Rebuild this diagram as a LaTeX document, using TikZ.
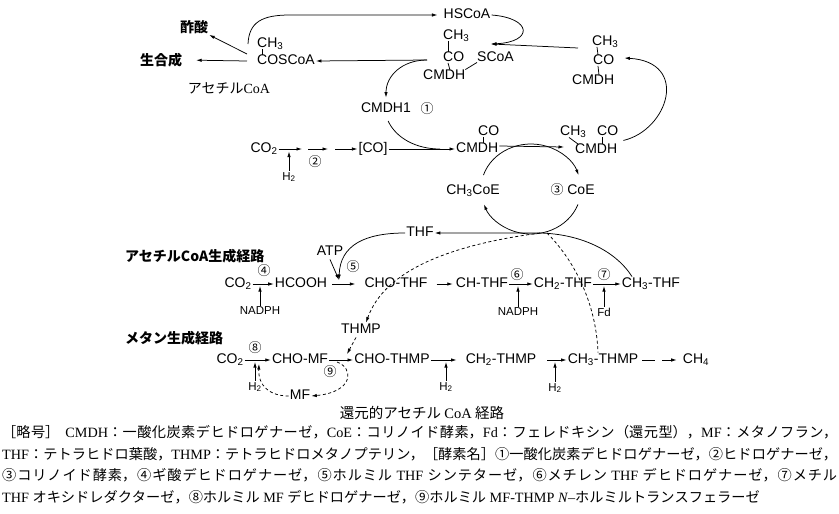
\documentclass[tikz,border=0pt]{standalone}
\usepackage{fontspec}
\setmainfont{Liberation Serif}
\setsansfont{Liberation Sans}
\newfontfamily\jp{Noto Sans CJK JP}
\usetikzlibrary{arrows.meta}
\newcommand{\chsub}[1]{\textsubscript{#1}}
\XeTeXlinebreaklocale "ja"
\XeTeXlinebreakskip=0pt plus 2pt

\begin{document}
\begin{tikzpicture}[x=1pt,y=1pt,
  lbl/.style={font=\sffamily\fontsize{14}{16}\selectfont,inner sep=1pt,text height=10pt,text depth=2.5pt},
  sm/.style={font=\sffamily\fontsize{11.5}{13}\selectfont,inner sep=1pt},
  num/.style={font=\jp\fontsize{13}{15}\selectfont,inner sep=0pt},
  ttl/.style={font=\jp\bfseries\fontsize{14}{16}\selectfont,inner sep=1pt},
  captxt/.style={font=\fontsize{14.2}{21.7}\selectfont,inner sep=0pt,text width=835pt,align=justify},
  arr/.style={-{Latex[length=5.5pt,width=3.4pt]},line width=0.75pt},
  bond/.style={line width=0.75pt},
  dsh/.style={arr,dash pattern=on 3pt off 2.5pt},
]
\useasboundingbox (0,0) rectangle (839,-514);

% acetyl-CoA
\node[ttl] (acetic) at (194,-27) {酢酸};
\node[ttl] (biosyn) at (161,-60) {生合成};
\node[lbl,anchor=west] (acme) at (256,-44) {CH\chsub{3}};
\node[lbl,anchor=west] (acco) at (256,-61) {COSCoA};
\node[font=\jp\fontsize{14}{16}\selectfont] (acname) at (229,-88) {アセチル{\rmfamily CoA}};
\draw[bond] ([xshift=6pt,yshift=2.5pt]acme.south west) -- ([xshift=6pt,yshift=-1.5pt]acco.north west);

% HSCoA and CMDH-acetyl-SCoA complex
\node[lbl] (hscoa) at (467,-15) {HSCoA};
\node[lbl,anchor=west] (cxme) at (442,-36) {CH\chsub{3}};
\node[lbl,anchor=west] (cxco) at (442,-58) {CO};
\node[lbl,anchor=west] (cxdh) at (422,-76) {CMDH};
\node[lbl,anchor=west] (cxsc) at (476,-58) {SCoA};
\draw[bond] ([xshift=6pt,yshift=2.5pt]cxme.south west) -- ([xshift=6pt,yshift=-1.5pt]cxco.north west);
\draw[bond] ([xshift=6pt,yshift=2.5pt]cxco.south west) -- ([xshift=28pt,yshift=-1.5pt]cxdh.north west);
\draw[bond] ([xshift=-1pt,yshift=-1pt]cxdh.north east) -- ([xshift=1pt,yshift=3pt]cxsc.south west);

% acetyl-CMDH (top right)
\node[lbl,anchor=west] (rcme) at (591,-42) {CH\chsub{3}};
\node[lbl,anchor=west] (rcco) at (592,-61) {CO};
\node[lbl,anchor=west] (rcdh) at (571,-81) {CMDH};
\draw[bond] ([xshift=6pt,yshift=2.5pt]rcme.south west) -- ([xshift=6pt,yshift=-1.5pt]rcco.north west);
\draw[bond] ([xshift=6pt,yshift=2.5pt]rcco.south west) -- ([xshift=28pt,yshift=-1.5pt]rcdh.north west);

% CO2 -> [CO] -> CMDH
\node[lbl] (cmdh1) at (386,-109) {CMDH1};
\node[num] (n1) at (427,-109) {①};
\node[lbl] (co2a) at (264,-149) {CO\chsub{2}};
\node[sm] (h2a) at (289,-177) {H\chsub{2}};
\node[num] (n2) at (315,-162) {②};
\node[lbl] (coint) at (373,-149) {[CO]};
\node[lbl,anchor=west] (co2x) at (477,-132) {CO};
\node[lbl,anchor=west] (cmdh2) at (455,-149) {CMDH};
\draw[bond] ([xshift=6pt,yshift=2.5pt]co2x.south west) -- ([xshift=28pt,yshift=-1.5pt]cmdh2.north west);
\node[lbl,anchor=west] (r2me) at (559,-132) {CH\chsub{3}};
\node[lbl,anchor=west] (r2co) at (596,-132) {CO};
\node[lbl,anchor=west] (r2dh) at (574,-150) {CMDH};
\draw[bond] ([xshift=10pt,yshift=2pt]r2me.south west) -- ([xshift=4pt,yshift=-1.5pt]r2dh.north west);
\draw[bond] ([xshift=6pt,yshift=2.5pt]r2co.south west) -- ([xshift=28pt,yshift=-1.5pt]r2dh.north west);

% corrinoid cycle
\node[lbl] (ch3coe) at (473,-191) {CH\chsub{3}CoE};
\node[num] (n3) at (557,-190) {③};
\node[lbl] (coe) at (581,-191) {CoE};
\coordinate (cyc) at (531,-189);

% acetyl-CoA pathway
\node[lbl] (thf) at (420,-233) {THF};
\node[lbl] (atp) at (330,-252) {ATP};
\node[ttl,anchor=west] (accpath) at (124,-256) {アセチルCoA生成経路};
\node[lbl] (co2b) at (238,-284) {CO\chsub{2}};
\node[num] (n4) at (264,-271) {④};
\node[sm] (nadph1) at (260,-311) {NADPH};
\node[lbl] (hcooh) at (301,-284) {HCOOH};
\node[num] (n5) at (353,-267) {⑤};
\node[lbl] (chothf) at (396,-284) {CHO-THF};
\node[lbl] (chthf) at (482,-284) {CH-THF};
\node[num] (n6) at (517,-275) {⑥};
\node[sm] (nadph2) at (518,-312) {NADPH};
\node[lbl] (ch2thf) at (563,-284) {CH\chsub{2}-THF};
\node[num] (n7) at (604,-275) {⑦};
\node[sm] (fd) at (604,-312) {Fd};
\node[lbl] (ch3thf) at (651,-284) {CH\chsub{3}-THF};
\node[lbl] (thmp) at (361,-330) {THMP};

% methane pathway
\node[ttl,anchor=west] (mepath) at (124,-338) {メタン生成経路};
\node[lbl] (co2c) at (230,-360) {CO\chsub{2}};
\node[num] (n8) at (255,-348) {⑧};
\node[sm] (h2b) at (255,-387) {H\chsub{2}};
\node[lbl] (chomf) at (300,-360) {CHO-MF};
\node[num] (n9) at (330,-372) {⑨};
\node[lbl] (mf) at (300,-396) {MF};
\node[lbl] (chothmp) at (392,-360) {CHO-THMP};
\node[sm] (h2c) at (446,-387) {H\chsub{2}};
\node[lbl] (ch2thmp) at (501,-360) {CH\chsub{2}-THMP};
\node[sm] (h2d) at (555,-388) {H\chsub{2}};
\node[lbl] (ch3thmp) at (603,-360) {CH\chsub{3}-THMP};
\node[lbl] (ch4) at (696,-360) {CH\chsub{4}};

% free ends
\coordinate (cxl) at (427,-60);
\coordinate (cxin) at (491,-44);
\coordinate (rcl) at (578,-48);
\coordinate (p1) at (302,-149);
\coordinate (p2a) at (308,-149);
\coordinate (p2b) at (328,-149);
\coordinate (p3a) at (335,-149);
\coordinate (jn) at (440,-149);
\coordinate (mrg) at (339,-280);
\coordinate (dsa) at (540,-233);
\coordinate (dsb) at (547,-233);
\coordinate (mrg2) at (347,-354);
\coordinate (lpst) at (337,-362);
\coordinate (lpend) at (259,-364);

% top arrows
\draw[arr] ([xshift=-8pt]acme.west) .. controls (249,-22) and (262,-15) .. (290,-15) -- ([xshift=-5pt]hscoa.west);
\draw[arr,shorten >=13pt] ([xshift=-9pt]acco.west) -- (biosyn.east);
\draw[arr] ([xshift=-9pt,yshift=7pt]acco.west) -- (acetic.south east);
\draw[arr] (cxl) -- (acco.east);
\draw[arr] (cxl) .. controls (402,-60) and (386,-76) .. ([yshift=4pt]cmdh1.north);
\draw[arr] (hscoa.east) .. controls (532,-18) and (534,-42) .. (cxin);
\draw[arr] (rcl) -- (cxin);
\draw[arr] ([xshift=4pt,yshift=-1pt]r2co.south east) .. controls (668,-130) and (690,-62) .. ([xshift=9pt,yshift=3pt]rcco.east);

% CO2 -> [CO] -> CMDH
\draw[arr] (co2a.east) -- (p1);
\draw[arr] (p2a) -- (p2b);
\draw[arr] (p3a) -- (coint.west);
\draw[arr,shorten >=2.5pt] (h2a.north) -- (h2a.north |- p1);
\draw[arr] (coint.east) -- (cmdh2.west);
\draw[bond,shorten <=5pt] (cmdh1.south) .. controls (396,-138) and (416,-149) .. (jn);
\draw[arr] ([yshift=3pt]cmdh2.east) -- ([xshift=-10pt,yshift=3pt]r2dh.west);

% cycle
\draw[arr] ([shift={(162:50 and 45)}]cyc) arc[start angle=162,end angle=18,x radius=50,y radius=45];
\draw[arr] ([shift={(-20:50 and 45)}]cyc) arc[start angle=-20,end angle=-160,x radius=50,y radius=45];

% acetyl-CoA pathway arrows
\draw[arr] ([xshift=-19pt]ch3thf.north) .. controls (615,-250) and (580,-234) .. (dsa) -- (thf.east);
\draw[arr] (thf.west) .. controls (365,-233) and (340,-245) .. (mrg);
\draw[arr] (atp.south) -- (mrg);
\draw[arr] (co2b) -- (hcooh);
\draw[arr,shorten <=4pt,shorten >=8pt] (hcooh) -- (chothf);
\draw[arr,shorten <=8pt,shorten >=2pt] (chothf) -- (chthf);
\draw[arr] (chthf) -- (ch2thf);
\draw[arr] (ch2thf) -- (ch3thf);
\draw[arr,shorten >=2pt] (nadph1.north) -- (nadph1.north |- co2b.center);
\draw[arr,shorten >=2pt] (nadph2.north) -- (nadph2.north |- chthf.center);
\draw[arr,shorten >=2pt] (fd.north) -- (fd.north |- ch2thf.center);
\draw[dsh] (dsa) .. controls (450,-245) and (385,-270) .. ([xshift=5pt]thmp.north);
\draw[bond,dash pattern=on 3pt off 2.5pt] (dsb) .. controls (572,-258) and (596,-300) .. ([xshift=-5pt]ch3thmp.north);

% methane pathway arrows
\draw[arr] (co2c) -- (chomf);
\draw[arr] (chomf) -- (chothmp);
\draw[arr,shorten >=8pt] (chothmp) -- (ch2thmp);
\draw[arr,shorten <=10pt] (ch2thmp) -- (ch3thmp);
\draw[arr,shorten <=3pt,shorten >=5pt,dash pattern=on 13pt off 7pt on 20pt off 0pt] (ch3thmp) -- (ch4);
\draw[arr,shorten >=2pt] (h2b.north) -- (h2b.north |- co2c.center);
\draw[arr,shorten >=2pt] (h2c.north) -- (h2c.north |- chothmp.center);
\draw[arr,shorten >=2pt] (h2d.north) -- (h2d.north |- ch2thmp.center);
\draw[dsh] ([xshift=-5pt]thmp.south) -- (mrg2);
\draw[dsh] (lpst) .. controls (354,-368) and (354,-392) .. (mf.east);
\draw[dsh] (mf.west) .. controls (270,-396) and (258,-386) .. (lpend);

% caption
\node[font=\jp\fontsize{14.5}{16}\selectfont,inner sep=0pt] (title) at (422,-413) {還元的アセチル {\rmfamily CoA} 経路};
\node[captxt,anchor=north west] (capbody) at (2,-425) {\noindent
{\jp ［略号］}\hspace{6pt}CMDH{\jp ：一酸化炭素デヒドロゲナーゼ，}CoE{\jp ：コリノイド酵素，}Fd{\jp ：フェレドキシン（還元型），}MF{\jp ：メタノフラン，}\linebreak
THF{\jp ：テトラヒドロ葉酸，}THMP{\jp ：テトラヒドロメタノプテリン，［酵素名］①一酸化炭素デヒドロゲナーゼ，②ヒドロゲナーゼ，}\linebreak
{\jp ③コリノイド酵素，④ギ酸デヒドロゲナーゼ，⑤ホルミル} THF {\jp シンテターゼ，⑥メチレン} THF {\jp デヒドロゲナーゼ，⑦メチル}\linebreak
THF {\jp オキシドレダクターゼ，⑧ホルミル} MF {\jp デヒドロゲナーゼ，⑨ホルミル} MF-THMP \textit{N}--{\jp ホルミルトランスフェラーゼ}};

\end{tikzpicture}
\end{document}
